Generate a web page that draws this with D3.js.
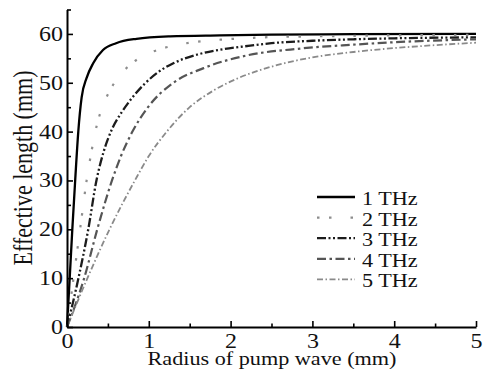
<!DOCTYPE html>
<html>
<head>
<meta charset="utf-8">
<script src="https://cdn.jsdelivr.net/npm/d3@7"></script>
<style>
  body { margin: 0; background: #fff; }
  svg { display: block; }
  text { font-family: "Liberation Serif", "Times New Roman", serif; fill: #111; }
</style>
</head>
<body>
<div id="vis"></div>
<script>
// ---------------- Datos ----------------
const series_names = ["1 THz", "2 THz", "3 THz", "4 THz", "5 THz"];

const radius_1 = [0, 0.033, 0.065, 0.1, 0.138, 0.179, 0.24, 0.32, 0.44, 0.6, 0.85, 1.26, 1.87, 2.5, 3.5, 5];
const length_1 = [0, 10, 20, 30, 40, 47, 51, 54, 56.7, 58.1, 59.0, 59.5, 59.7, 59.85, 59.95, 60];

const radius_2 = [0, 0.08, 0.16, 0.24, 0.3, 0.36, 0.42, 0.52, 0.6, 0.78, 0.9, 1.14, 1.3, 1.54, 1.95, 2.4, 3, 4, 5];
const length_2 = [0, 10, 20, 30, 36, 41, 44.5, 48.3, 50.5, 53.8, 55.2, 56.9, 57.6, 58.3, 58.9, 59.3, 59.5, 59.7, 59.8];

const radius_3 = [0, 0.14, 0.26, 0.36, 0.45, 0.55, 0.67, 0.8, 0.95, 1.1, 1.3, 1.6, 2.0, 2.24, 2.5, 3, 3.5, 4, 5];
const length_3 = [0, 10, 20, 30, 36, 40.5, 44, 47, 49.8, 52, 54, 55.8, 57.1, 57.6, 58.1, 58.6, 58.9, 59.1, 59.3];

const radius_4 = [0, 0.21, 0.37, 0.55, 0.66, 0.8, 0.99, 1.3, 1.67, 2.2, 2.85, 3.5, 4, 5];
const length_4 = [0, 10, 20, 30, 35, 40, 45, 50, 53, 55.6, 57.0, 57.8, 58.3, 58.9];

const radius_5 = [0, 0.25, 0.52, 0.83, 1.0, 1.22, 1.5, 1.8, 2.1, 2.5, 3.0, 3.5, 4.0, 4.5, 5.0];
const length_5 = [0, 10, 20, 30, 35, 40, 45, 48.5, 51, 53.3, 55.2, 56.3, 57.1, 57.7, 58.2];

const x_ticks = [0, 1, 2, 3, 4, 5];
const y_ticks = [0, 10, 20, 30, 40, 50, 60];

// ---------------- Parametros ----------------
const W = 487, H = 374;
const SX = 1.2; // el texto original esta estirado horizontalmente

const estilos = [
  {color: "#000",    width: 2.3, dash: null},
  {color: "#8d8d8d", width: 2.2, dash: "2.5,9.5,2.5,19"},
  {color: "#1c1c1c", width: 2.3, dash: "9,2.5,2,2.5,2,2.5"},
  {color: "#555",    width: 2.2, dash: "9,3.5,2.5,3.5"},
  {color: "#8a8a8a", width: 1.8, dash: "6,2.5,1.5,2.5"}
];

const radios = [radius_1, radius_2, radius_3, radius_4, radius_5];
const largos = [length_1, length_2, length_3, length_4, length_5];
const series = series_names.map((name, i) => ({
  name: name,
  values: radios[i].map((r, j) => ({r: r, L: largos[i][j]}))
}));

// ---------------- Grafico ----------------
const svg = d3.select("#vis").append("svg")
  .attr("width", W)
  .attr("height", H);

const x = d3.scaleLinear().domain([0, 5]).range([67, 476]);
const y = d3.scaleLinear().domain([0, 65]).range([327, 9.5]);

const line = d3.line()
  .x(d => x(d.r))
  .y(d => y(d.L))
  .curve(d3.curveMonotoneX);

svg.append("g").selectAll("path")
  .data(series)
  .enter().append("path")
  .attr("d", d => line(d.values))
  .attr("fill", "none")
  .attr("stroke", (d, i) => estilos[i].color)
  .attr("stroke-width", (d, i) => estilos[i].width)
  .attr("stroke-dasharray", (d, i) => estilos[i].dash);

// ejes: ticks menores
svg.append("g")
  .attr("transform", "translate(0," + y(0) + ")")
  .call(d3.axisBottom(x).tickValues(d3.range(0.5, 5, 1)).tickSize(-3.5).tickSizeOuter(0).tickFormat(""))
  .call(g => g.select(".domain").remove())
  .selectAll("line").attr("stroke-width", 1.6).attr("stroke", "#000");

svg.append("g")
  .attr("transform", "translate(" + x(0) + ",0)")
  .call(d3.axisLeft(y).tickValues(d3.range(5, 70, 10)).tickSize(-4).tickSizeOuter(0).tickFormat(""))
  .call(g => g.select(".domain").remove())
  .selectAll("line").attr("stroke-width", 1.6).attr("stroke", "#000");

// ejes: ticks mayores
const xAxis = svg.append("g")
  .attr("transform", "translate(0," + y(0) + ")")
  .call(d3.axisBottom(x).tickValues(x_ticks).tickFormat(d3.format("d"))
    .tickSize(-6).tickSizeOuter(0).tickPadding(7));

const yAxis = svg.append("g")
  .attr("transform", "translate(" + x(0) + ",0)")
  .call(d3.axisLeft(y).tickValues(y_ticks).tickFormat(d3.format("d"))
    .tickSize(-6).tickSizeOuter(0).tickPadding(3.3));

[xAxis, yAxis].forEach(g => {
  g.select(".domain").attr("stroke", "#000").attr("stroke-width", 2);
  g.selectAll(".tick line").attr("stroke", "#000").attr("stroke-width", 1.6);
  g.selectAll(".tick text")
    .attr("font-size", 20)
    .attr("font-family", "Liberation Serif, serif")
    .attr("fill", "#111")
    .attr("transform", "scale(" + SX + ",1)");
});

// titulos de ejes
svg.append("text")
  .attr("transform", "translate(272,365) scale(" + SX + ",1)")
  .attr("text-anchor", "middle")
  .attr("font-size", 18.5)
  .text("Radius of pump wave (mm)");

svg.append("text")
  .attr("transform", "translate(32,168) scale(" + SX + ",1) rotate(-90)")
  .attr("text-anchor", "middle")
  .attr("font-size", 22)
  .text("Effective length (mm)");

// leyenda
const leyenda = svg.append("g").selectAll("g")
  .data(series)
  .enter().append("g")
  .attr("transform", (d, i) => "translate(317," + (197 + i * 20.6) + ")");

leyenda.append("line")
  .attr("x1", 0).attr("x2", 38)
  .attr("stroke", (d, i) => estilos[i].color)
  .attr("stroke-width", (d, i) => estilos[i].width)
  .attr("stroke-dasharray", (d, i) => estilos[i].dash);

leyenda.append("text")
  .attr("transform", "translate(45,8) scale(" + SX + ",1)")
  .attr("font-size", 18.5)
  .text(d => d.name);
</script>
</body>
</html>
